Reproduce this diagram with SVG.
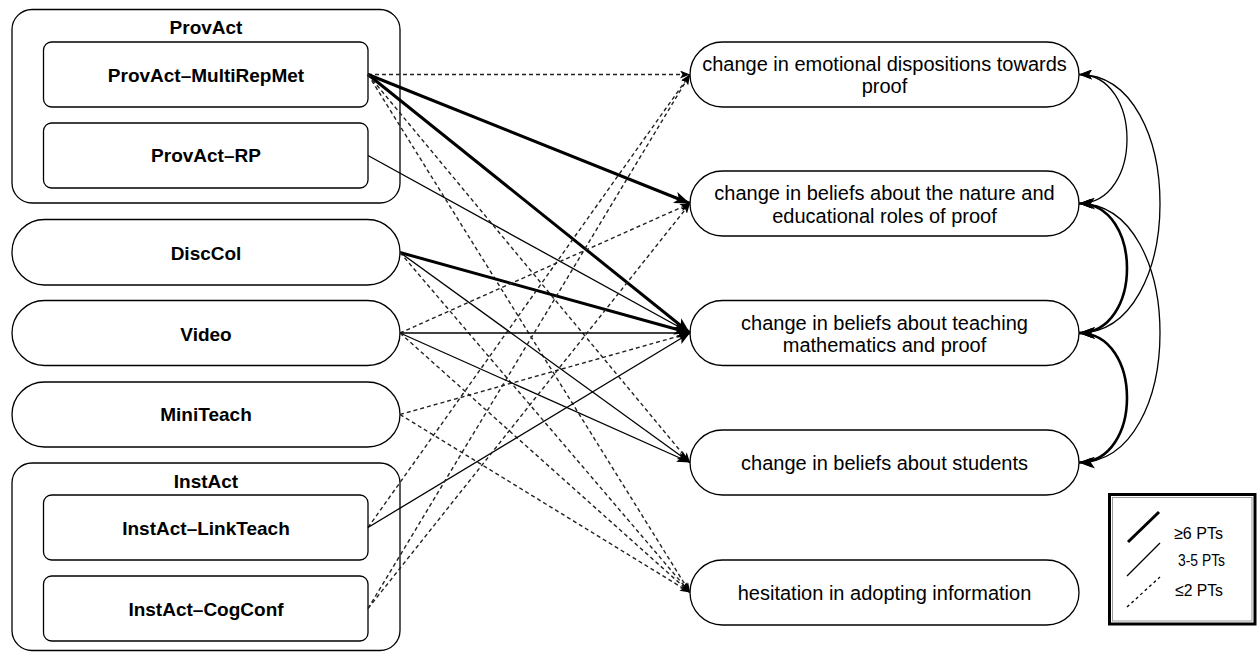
<svg xmlns="http://www.w3.org/2000/svg" width="1257" height="653" viewBox="0 0 1257 653">
<style>
.box{fill:#fff;stroke:#000;stroke-width:1.3}
.lbl{font-family:"Liberation Sans",Arial,sans-serif;font-size:19px;font-weight:bold;fill:#000;text-anchor:middle}
.rt{font-family:"Liberation Sans",Arial,sans-serif;font-size:20px;fill:#000;text-anchor:middle}
.lg{font-family:"Liberation Sans",Arial,sans-serif;font-size:17px;fill:#000}
.thick{fill:none;stroke:#000;stroke-width:3;marker-end:url(#aK)}
.thin{fill:none;stroke:#000;stroke-width:1.3;marker-end:url(#aT)}
.dash{fill:none;stroke:#222;stroke-width:1.4;stroke-dasharray:4 3;marker-end:url(#aD)}
.cthin{fill:none;stroke:#000;stroke-width:1.3;marker-start:url(#aT);marker-end:url(#aT)}
.cthick{fill:none;stroke:#000;stroke-width:2.6;marker-start:url(#aK);marker-end:url(#aK)}
</style>
<defs>
<marker id="aK" markerUnits="userSpaceOnUse" markerWidth="16" markerHeight="12" refX="16" refY="6" orient="auto-start-reverse"><path d="M0,0 L16,6 L0,12 L4,6 Z" fill="#000"/></marker>
<marker id="aT" markerUnits="userSpaceOnUse" markerWidth="13" markerHeight="10" refX="13" refY="5" orient="auto-start-reverse"><path d="M0,0 L13,5 L0,10 L3,5 Z" fill="#000"/></marker>
<marker id="aD" markerUnits="userSpaceOnUse" markerWidth="10" markerHeight="8" refX="10" refY="4" orient="auto-start-reverse"><path d="M0,0 L10,4 L0,8 L2.5,4 Z" fill="#000"/></marker>
</defs>
<rect width="1257" height="653" fill="#fff"/>

<g id="ProvAct">
<rect class="box" x="12" y="9.5" width="388" height="193.5" rx="20"/>
<text class="lbl" x="206" y="34">ProvAct</text>
</g>
<g id="ProvAct-MultiRepMet">
<rect class="box" x="43.5" y="42" width="324.5" height="65" rx="8"/>
<text class="lbl" x="206" y="81.5">ProvAct–MultiRepMet</text>
</g>
<g id="ProvAct-RP">
<rect class="box" x="43.5" y="123" width="324.5" height="65" rx="8"/>
<text class="lbl" x="206" y="162">ProvAct–RP</text>
</g>
<g id="DiscCol">
<rect class="box" x="12" y="219.5" width="388" height="65.5" rx="32.5"/>
<text class="lbl" x="206" y="259.5">DiscCol</text>
</g>
<g id="Video">
<rect class="box" x="12" y="300.5" width="388" height="65" rx="32.5"/>
<text class="lbl" x="206" y="340.5">Video</text>
</g>
<g id="MiniTeach">
<rect class="box" x="12" y="382" width="388" height="65" rx="32.5"/>
<text class="lbl" x="206" y="421">MiniTeach</text>
</g>
<g id="InstAct">
<rect class="box" x="12" y="463" width="388" height="187.5" rx="20"/>
<text class="lbl" x="206" y="488">InstAct</text>
</g>
<g id="InstAct-LinkTeach">
<rect class="box" x="43.5" y="495" width="324.5" height="65" rx="8"/>
<text class="lbl" x="206" y="534.5">InstAct–LinkTeach</text>
</g>
<g id="InstAct-CogConf">
<rect class="box" x="43.5" y="576" width="324.5" height="65" rx="8"/>
<text class="lbl" x="206" y="615.5">InstAct–CogConf</text>
</g>

<g id="emotional">
<rect class="box" x="690" y="42" width="389" height="65" rx="32.5"/>
<text class="rt" x="884.5" y="71">change in emotional dispositions towards</text>
<text class="rt" x="884.5" y="93">proof</text>
</g>
<g id="nature">
<rect class="box" x="690" y="171" width="389" height="65" rx="32.5"/>
<text class="rt" x="884.5" y="200">change in beliefs about the nature and</text>
<text class="rt" x="884.5" y="223">educational roles of proof</text>
</g>
<g id="teaching">
<rect class="box" x="690" y="300.5" width="389" height="65" rx="32.5"/>
<text class="rt" x="884.5" y="330">change in beliefs about teaching</text>
<text class="rt" x="884.5" y="352">mathematics and proof</text>
</g>
<g id="students">
<rect class="box" x="690" y="430" width="389" height="65" rx="32.5"/>
<text class="rt" x="884.5" y="470">change in beliefs about students</text>
</g>
<g id="hesitation">
<rect class="box" x="690" y="560" width="389" height="65" rx="32.5"/>
<text class="rt" x="884.5" y="600">hesitation in adopting information</text>
</g>

<g id="connectors">
<path class="dash" d="M368,74.5 L690,74.5"/>
<path class="thick" d="M368,74.5 L690,203.5"/>
<path class="thick" d="M368,74.5 L690,333"/>
<path class="dash" d="M368,74.5 L690,462.5"/>
<path class="dash" d="M368,74.5 L690,592.5"/>
<path class="thin" d="M368,155.5 L690,333"/>
<path class="thick" d="M400,252.5 L690,333"/>
<path class="thin" d="M400,252.5 L690,462.5"/>
<path class="dash" d="M400,252.5 L690,592.5"/>
<path class="dash" d="M400,333 L690,203.5"/>
<path class="thin" d="M400,333 L690,333"/>
<path class="thin" d="M400,333 L690,462.5"/>
<path class="dash" d="M400,333 L690,592.5"/>
<path class="dash" d="M400,414.5 L690,333"/>
<path class="dash" d="M400,414.5 L690,592.5"/>
<path class="dash" d="M368,527.5 L690,74.5"/>
<path class="thin" d="M368,527.5 L690,333"/>
<path class="dash" d="M368,608.5 L690,74.5"/>
<path class="dash" d="M368,608.5 L690,203.5"/>
<path class="cthin" d="M1079,74.5 C1143,74.5 1143,203.5 1079,203.5"/>
<path class="cthin" d="M1079,74.5 C1187,74.5 1187,333 1079,333"/>
<path class="cthin" d="M1079,203.5 C1187,203.5 1187,462.5 1079,462.5"/>
<path class="cthick" d="M1079,203.5 C1143,203.5 1143,333 1079,333"/>
<path class="cthick" d="M1079,333 C1143,333 1143,462.5 1079,462.5"/>
</g>

<g id="legend">
<rect x="1109.5" y="494.5" width="145.5" height="129.5" fill="#fff" stroke="#000" stroke-width="3"/>
<rect x="1112.5" y="497.5" width="139.5" height="123.5" fill="none" stroke="#999" stroke-width="1"/>
<line x1="1128" y1="542" x2="1159" y2="512" stroke="#000" stroke-width="3"/>
<line x1="1127" y1="576" x2="1160" y2="543" stroke="#000" stroke-width="1.3"/>
<line x1="1127" y1="607" x2="1160" y2="577" stroke="#000" stroke-width="1.3" stroke-dasharray="3 3"/>
<text class="lg" x="1174" y="539" textLength="49" lengthAdjust="spacingAndGlyphs">≥6 PTs</text>
<text class="lg" x="1178" y="566" textLength="47" lengthAdjust="spacingAndGlyphs">3-5 PTs</text>
<text class="lg" x="1175" y="596" textLength="48" lengthAdjust="spacingAndGlyphs">≤2 PTs</text>
</g>
</svg>
